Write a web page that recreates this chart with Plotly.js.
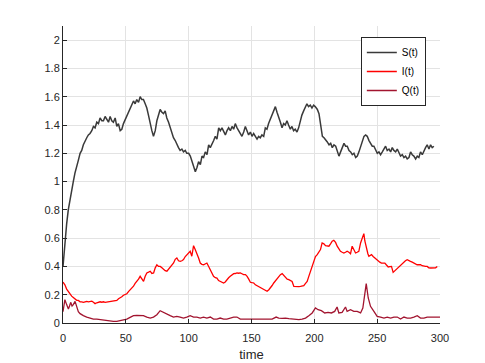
<!DOCTYPE html>
<html>
<head>
<meta charset="utf-8">
<script src="https://cdn.plot.ly/plotly-3.0.1.min.js"></script>
<style>html,body{margin:0;padding:0;background:#fff;}#chart{width:485px;height:363px;}</style>
</head>
<body>
<div id="chart"></div>
<script>
// S(t)
const sTime = [0,1.5,2.9,4.2,5.6,6.9,8.2,9.5,10.9,12.2,13.6,14.9,16.2,17.5,18.9,20.2,21.5,22.9,24.2,25.5,26.9,28.2,29.5,30.9,32.2,33.5,34.8,36.2,37.5,38.8,40.1,41.5,42.8,44.1,45.5,46.8,48.1,49.5,50.8,52.1,53.4,54.8,56.1,57.4,58.7,60.1,61.4,62.7,64,65.4,66.7,68,69.4,70.7,72,73.4,74.7,76,77.3,78.7,80,81.3,82.6,84,85.3,86.6,87.9,89.3,90.6,91.9,93.2,94.6,95.9,97.3,98.5,100,101.3,102.6,104,105.3,106.6,107.9,109.3,110.6,111.9,113.2,114.6,115.9,117.2,118.5,119.9,121.2,122.5,123.9,125.2,126.5,127.9,129.2,130.5,131.8,133.2,134.5,135.8,137.1,138.5,139.8,141.1,142.4,143.8,145.1,146.4,147.7,149.1,150.4,151.7,153,154.4,155.7,157,158.3,159.7,161,162.3,163.6,165,166.3,167.6,169,170.3,171.6,173,174.3,175.6,176.9,178.2,179.5,180.9,182.2,183.5,184.8,186.2,187.5,188.8,190.1,191.5,192.8,194.1,195.4,196.8,198.1,199.4,200.7,202.4,203.7,205,206.4,207.7,209,210.3,211.7,213,214.3,215.6,217,218.3,219.6,220.9,222.3,223.6,224.9,226.2,227.6,228.9,230.2,231.5,232.9,234.2,235.5,236.8,238.2,239.5,240.8,242.1,243.5,244.8,246.1,247.4,248.8,250.1,251.4,252.7,254.1,255.4,256.7,258,259.4,260.7,262,263.3,264.7,266,267.3,268.6,270,271.3,272.6,273.9,275.3,276.6,277.9,279.2,280.6,281.9,283.2,284.5,285.9,287.2,288.5,289.8,291.2,292.5,293.8,295.1,296.5,297.8,299,300];
const sValues = [0.40,0.58,0.70,0.80,0.88,0.94,1.00,1.06,1.12,1.15,1.20,1.22,1.26,1.29,1.31,1.33,1.34,1.36,1.39,1.38,1.42,1.41,1.45,1.43,1.43,1.46,1.44,1.42,1.46,1.43,1.42,1.45,1.39,1.41,1.36,1.37,1.41,1.44,1.47,1.49,1.52,1.55,1.57,1.55,1.58,1.56,1.60,1.58,1.58,1.55,1.52,1.47,1.40,1.36,1.32,1.36,1.43,1.48,1.51,1.49,1.48,1.50,1.45,1.42,1.38,1.35,1.31,1.29,1.26,1.24,1.22,1.23,1.21,1.22,1.20,1.20,1.18,1.14,1.11,1.07,1.10,1.14,1.12,1.18,1.17,1.21,1.19,1.26,1.24,1.26,1.29,1.32,1.30,1.38,1.36,1.38,1.35,1.33,1.36,1.38,1.36,1.39,1.37,1.41,1.38,1.36,1.34,1.32,1.35,1.39,1.36,1.33,1.35,1.32,1.34,1.32,1.30,1.32,1.31,1.33,1.32,1.38,1.37,1.41,1.44,1.47,1.50,1.53,1.49,1.46,1.42,1.38,1.41,1.40,1.43,1.40,1.37,1.39,1.36,1.37,1.35,1.38,1.43,1.47,1.50,1.53,1.55,1.53,1.54,1.52,1.54,1.53,1.51,1.48,1.40,1.32,1.31,1.29,1.28,1.26,1.27,1.24,1.26,1.25,1.22,1.18,1.21,1.24,1.27,1.25,1.25,1.22,1.21,1.19,1.20,1.17,1.18,1.21,1.25,1.29,1.32,1.33,1.32,1.29,1.27,1.25,1.25,1.22,1.20,1.21,1.19,1.21,1.23,1.25,1.22,1.23,1.21,1.24,1.22,1.21,1.23,1.20,1.18,1.19,1.17,1.18,1.16,1.17,1.21,1.19,1.18,1.16,1.18,1.17,1.21,1.19,1.22,1.24,1.26,1.23,1.26,1.24,1.25];

// I(t)
const iTime = [0,1.5,2.9,4.3,5.6,6.9,8.2,9.6,10.9,12.2,13.6,14.9,16.2,17.6,18.9,20.2,21.5,22.9,24.2,25.5,26.9,28.2,29.5,30.9,32.2,33.5,34.8,36.2,37.5,38.8,40.2,41.5,42.8,44.2,45.5,46.8,48.1,49.5,50.8,52.1,53.5,54.8,56.1,57.4,58.8,60.1,61.4,62.8,64.1,65.4,66.7,68.1,69.4,70.7,72.1,73.4,74.7,76,77.4,78.7,80,81.3,82.7,84,85.3,86.6,88,89.3,90.6,91.9,93.3,94.6,95.9,97.3,98.6,99.9,101.2,102.5,103.9,105.2,106.5,107.9,109.2,110.5,111.9,113.2,114.5,115.9,117.2,118.5,119.8,121.2,122.5,123.8,125.1,126.5,127.8,129.1,130.4,131.8,133.1,134.4,135.8,137.1,138.4,139.7,141.1,142.4,143.7,145.2,146.5,147.8,149.1,150.5,151.8,153.1,154.4,155.8,157.1,158.5,159.8,161.1,162.4,163.8,165.1,166.4,167.7,169.1,170.4,171.7,173,174.4,175.7,177,178.4,179.7,181,182.3,183.7,185,186.3,187.7,189,190.3,191.6,193,194.3,195.6,197,198.3,199.6,200.9,202.3,203.6,204.9,206.2,207.6,208.9,210.2,211.6,212.9,214.2,215.5,216.9,218.2,219.5,220.8,222.2,223.5,224.8,226.1,227.5,228.8,230.1,231.5,232.8,234.1,235.4,236.8,238.1,239.4,240.2,241.5,242.6,243.4,244.5,245.5,246.8,248.1,249.5,250.8,252.1,253.4,254.8,256.1,257.4,258.8,260.1,261.4,262.7,264.1,265.9,267.2,268.6,269.9,271.2,272.5,273.9,275.2,276.5,277.9,279.2,280.5,281.8,283.2,284.5,285.8,287.2,288.5,289.8,291.1,292.5,293.8,295.1,296.5,297.8,299,300];
const iValues = [0.29,0.27,0.24,0.22,0.20,0.19,0.18,0.17,0.16,0.16,0.15,0.15,0.146,0.15,0.153,0.15,0.153,0.155,0.146,0.137,0.143,0.146,0.150,0.147,0.150,0.146,0.148,0.152,0.153,0.155,0.157,0.158,0.160,0.172,0.177,0.185,0.196,0.200,0.207,0.222,0.236,0.245,0.26,0.28,0.294,0.31,0.33,0.31,0.294,0.33,0.354,0.36,0.366,0.35,0.354,0.39,0.412,0.40,0.40,0.39,0.377,0.37,0.366,0.38,0.389,0.41,0.424,0.45,0.46,0.44,0.436,0.44,0.448,0.47,0.483,0.50,0.507,0.472,0.547,0.52,0.495,0.46,0.424,0.415,0.412,0.42,0.424,0.40,0.377,0.35,0.33,0.32,0.318,0.30,0.294,0.285,0.283,0.29,0.307,0.32,0.33,0.34,0.349,0.35,0.354,0.352,0.354,0.348,0.342,0.342,0.33,0.31,0.288,0.285,0.283,0.27,0.264,0.255,0.248,0.24,0.236,0.23,0.224,0.235,0.248,0.265,0.283,0.30,0.311,0.33,0.342,0.349,0.335,0.318,0.31,0.307,0.30,0.294,0.259,0.257,0.255,0.257,0.259,0.262,0.264,0.28,0.294,0.33,0.366,0.41,0.448,0.47,0.483,0.50,0.519,0.566,0.56,0.547,0.545,0.543,0.56,0.578,0.585,0.57,0.543,0.52,0.507,0.50,0.495,0.50,0.507,0.50,0.49,0.543,0.52,0.495,0.50,0.507,0.566,0.601,0.632,0.58,0.519,0.49,0.472,0.478,0.483,0.47,0.46,0.45,0.436,0.43,0.424,0.424,0.424,0.41,0.396,0.398,0.40,0.358,0.37,0.389,0.40,0.412,0.425,0.436,0.44,0.448,0.44,0.436,0.43,0.424,0.418,0.412,0.412,0.412,0.405,0.40,0.40,0.40,0.39,0.389,0.39,0.389,0.39,0.40];

// Q(t)
const qTime = [0,0.5,1.5,2.9,4.3,5.2,6.1,7.2,8.2,9.6,10.9,12.2,13.6,14.9,16.2,18.9,21.5,24.2,26.9,29.5,32.2,34.8,37.5,40.1,42.8,45.5,48.1,50.8,53.4,56.1,58.7,61.4,64,66.7,69.4,72,74.7,77.3,80,82.6,85.3,87.9,90.6,93.2,95.9,98.5,101.2,103.9,106.5,109.2,111.8,114.5,117.2,119.8,122.5,125.1,127.8,130.4,133.1,135.8,138.4,141.1,143.7,146.4,149,151.5,155.8,161,166.4,169.6,171.7,174.4,177,179.7,182.3,185,187.7,190.3,193,195.6,198.3,200.9,203,205.6,208.3,210.9,213.6,216.2,218.1,219.5,222.1,224.8,226.1,228.8,231.4,234.1,236.8,238.6,240.2,241.3,242.9,244.7,247.4,250,252.7,255.4,258,260.7,263.3,266,268.6,271.3,273.9,276.6,279.2,281.9,284.5,287.2,289.8,292.5,295.1,297.8,300];
const qValues = [0.08,0.106,0.165,0.13,0.099,0.12,0.146,0.12,0.13,0.153,0.106,0.08,0.066,0.058,0.052,0.042,0.035,0.028,0.028,0.024,0.019,0.016,0.014,0.012,0.012,0.016,0.019,0.028,0.04,0.052,0.054,0.052,0.052,0.042,0.035,0.042,0.059,0.087,0.075,0.059,0.052,0.042,0.047,0.042,0.035,0.042,0.052,0.042,0.042,0.035,0.042,0.035,0.042,0.028,0.028,0.035,0.028,0.028,0.035,0.042,0.042,0.028,0.028,0.028,0.024,0.024,0.024,0.024,0.028,0.042,0.035,0.033,0.035,0.031,0.028,0.024,0.024,0.028,0.035,0.052,0.071,0.106,0.094,0.087,0.071,0.075,0.071,0.082,0.113,0.071,0.075,0.113,0.082,0.094,0.082,0.082,0.071,0.106,0.20,0.278,0.177,0.118,0.082,0.047,0.042,0.035,0.042,0.035,0.042,0.042,0.028,0.042,0.035,0.035,0.042,0.052,0.035,0.035,0.042,0.042,0.042,0.042,0.042];

const xTicks = [0,50,100,150,200,250,300];
const yTicks = [0,0.2,0.4,0.6,0.8,1,1.2,1.4,1.6,1.8,2];
const seriesNames = ['S(t)','I(t)','Q(t)'];
const seriesColors = ['#3a3a3a','#ff0000','#a2142f'];

const traces = [
  {x: sTime, y: sValues, name: seriesNames[0], type: 'scatter', mode: 'lines', line: {color: seriesColors[0], width: 1.5}},
  {x: iTime, y: iValues, name: seriesNames[1], type: 'scatter', mode: 'lines', line: {color: seriesColors[1], width: 1.3}},
  {x: qTime, y: qValues, name: seriesNames[2], type: 'scatter', mode: 'lines', line: {color: seriesColors[2], width: 1.3}}
];

const axisCommon = {
  showgrid: true, gridcolor: '#e3e3e3', gridwidth: 1,
  showline: true, linecolor: '#262626', linewidth: 1, mirror: false,
  ticks: 'inside', ticklen: 4, tickcolor: '#262626',
  zeroline: false,
  tickfont: {family: 'Liberation Sans, Arial, sans-serif', size: 11, color: '#262626'}
};

const layout = {
  width: 485, height: 363,
  margin: {l: 63, r: 45, t: 26, b: 40},
  paper_bgcolor: '#ffffff', plot_bgcolor: '#ffffff',
  showlegend: true,
  xaxis: Object.assign({}, axisCommon, {
    range: [0, 300], tickvals: xTicks, ticktext: xTicks.map(String),
    ticklabelstandoff: 5,
    title: {text: 'time', font: {family: 'Liberation Sans, Arial, sans-serif', size: 13, color: '#262626'}, standoff: 6}
  }),
  yaxis: Object.assign({}, axisCommon, {
    range: [0, 2.1], tickvals: yTicks, ticktext: yTicks.map(String)
  }),
  legend: {
    x: 0.79, y: 0.963, xanchor: 'left', yanchor: 'top',
    bgcolor: '#ffffff', bordercolor: '#262626', borderwidth: 1,
    font: {family: 'Liberation Sans, Arial, sans-serif', size: 10, color: '#000000'},
    itemwidth: 30, tracegroupgap: 0
  }
};

Plotly.newPlot('chart', traces, layout, {displayModeBar: false, staticPlot: true});
</script>
</body>
</html>
